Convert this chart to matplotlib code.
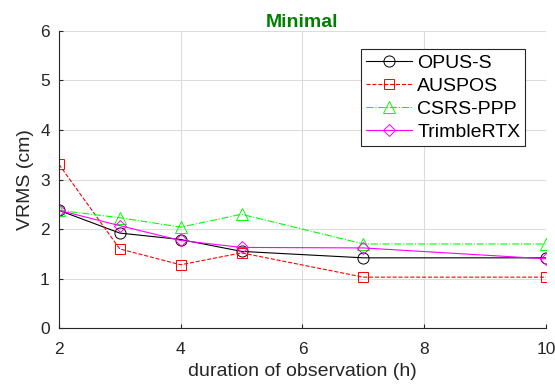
import numpy as np
import matplotlib.pyplot as plt

plt.rcParams['font.family'] = ['Liberation Sans', 'DejaVu Sans']

duration = [2, 3, 4, 5, 7, 10]
opus_s = [2.38, 1.92, 1.79, 1.55, 1.42, 1.42]
auspos = [3.31, 1.60, 1.28, 1.52, 1.03, 1.03]
csrs_ppp = [2.38, 2.23, 2.04, 2.30, 1.70, 1.70]
trimble_rtx = [2.38, 2.07, 1.77, 1.63, 1.62, 1.40]

fig = plt.figure(figsize=(5.55, 3.87), dpi=100)
ax = fig.add_axes([0.106, 0.152, 0.878, 0.768])

ax.plot(duration, opus_s, color='k', ls='-', lw=0.8, marker='o', ms=8, mfc='none', mew=0.7, label='OPUS-S')
ax.plot(duration, auspos, color='r', ls='--', lw=0.8, marker='s', ms=7, mfc='none', mew=0.7, label='AUSPOS')
ax.plot(duration, csrs_ppp, color=(0, 1, 0), ls='-.', lw=0.8, marker='^', ms=8.5, mfc='none', mew=0.7, label='CSRS-PPP')
ax.plot(duration, trimble_rtx, color=(1, 0, 1), ls='-', lw=0.8, marker='D', ms=6.5, mfc='none', mew=0.7, label='TrimbleRTX')

ax.set_xlim(2, 10)
ax.set_ylim(0, 6)
ax.set_xticks([2, 4, 6, 8, 10])
ax.set_yticks(range(7))
ax.grid(True, color='#dcdcdc', lw=0.8)
ax.set_axisbelow(True)
for s in ['top', 'right']:
    ax.spines[s].set_visible(False)
for s in ['left', 'bottom']:
    ax.spines[s].set_color('#262626')
    ax.spines[s].set_linewidth(0.8)
ax.tick_params(direction='in', length=3, labelsize=12.5, colors='#262626')
ax.tick_params(axis='x', pad=10)
ax.tick_params(axis='y', pad=6.5)

ax.set_xlabel('duration of observation (h)', fontsize=14, color='#262626', labelpad=4)
ax.set_ylabel('VRMS (cm)', fontsize=14, color='#262626', labelpad=4)
ax.set_title('Minimal', fontsize=14, fontweight='bold', color=(0, 0.5, 0), pad=3)

leg = ax.legend(loc='upper right', bbox_to_anchor=(0.957, 0.939), fontsize=14, fancybox=False,
                framealpha=1, edgecolor='#262626', handlelength=2.4, borderpad=0.25,
                labelspacing=0.28, handletextpad=0.25, borderaxespad=0)
leg.get_frame().set_linewidth(0.8)

fig.savefig('out.png', dpi=100)
